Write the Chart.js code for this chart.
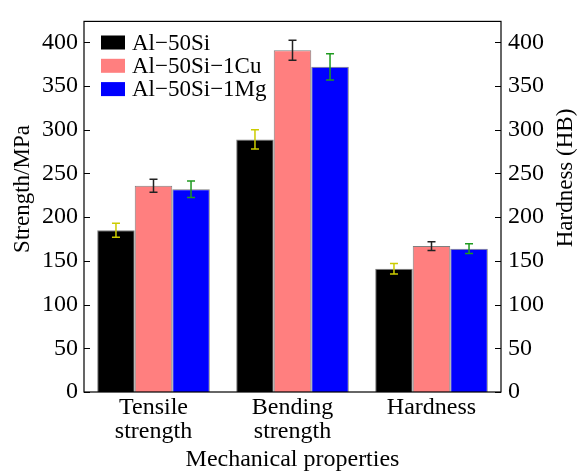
<!DOCTYPE html>
<html>
<head>
<meta charset="utf-8">
<script src="https://cdn.jsdelivr.net/npm/chart.js@4.4.1/dist/chart.umd.min.js"></script>
<style>
  html, body { margin: 0; padding: 0; background: #ffffff; }
  #wrap { position: relative; width: 579px; height: 472px; }
</style>
</head>
<body>
<div id="wrap"><canvas id="c" width="579" height="472"></canvas></div>
<script>
// ---- data ----
const categories = [["Tensile", "strength"], ["Bending", "strength"], "Hardness"];
const seriesNames = ["Al\u221250Si", "Al\u221250Si\u22121Cu", "Al\u221250Si\u22121Mg"];
const al50Si      = [185, 289, 141];
const al50Si1Cu   = [236, 391, 167];
const al50Si1Mg   = [232, 372, 164];
const err50Si     = [8, 11, 6];
const err50Si1Cu  = [7.5, 11.5, 5];
const err50Si1Mg  = [9.5, 15, 5.5];
const yTicks      = [0, 50, 100, 150, 200, 250, 300, 350, 400];
const leftTitle   = "Strength/MPa";
const rightTitle  = "Hardness (HB)";
const xTitle      = "Mechanical properties";

const FONT = "'Liberation Serif', 'Times New Roman', serif";
const barColors = ["#000000", "#ff7f7f", "#0000ff"];
const errColors = ["#cccc00", "#222222", "#1f9a1f"];
const seriesVals = [al50Si, al50Si1Cu, al50Si1Mg];
const seriesErrs = [err50Si, err50Si1Cu, err50Si1Mg];

const datasets = seriesNames.map((n, i) => ({
  label: n,
  data: seriesVals[i],
  errors: seriesErrs[i],
  backgroundColor: barColors[i],
  borderColor: "#7f7f7f",
  borderWidth: 1,
  borderSkipped: 'bottom',
  barPercentage: 1.0,
  categoryPercentage: 0.81,
  yAxisID: 'y'
}));

const decorPlugin = {
  id: 'decor',
  afterDatasetsDraw(chart) {
    const ctx = chart.ctx;
    const ys = chart.scales.y;
    chart.data.datasets.forEach((ds, di) => {
      const meta = chart.getDatasetMeta(di);
      meta.data.forEach((bar, i) => {
        const v = ds.data[i], e = ds.errors[i];
        const yTop = ys.getPixelForValue(v + e);
        const yBot = ys.getPixelForValue(v - e);
        const x = bar.x;
        ctx.save();
        ctx.strokeStyle = errColors[di];
        ctx.lineWidth = 1.5;
        ctx.beginPath();
        ctx.moveTo(x, yTop); ctx.lineTo(x, yBot);
        ctx.moveTo(x - 4, yTop); ctx.lineTo(x + 4, yTop);
        ctx.moveTo(x - 4, yBot); ctx.lineTo(x + 4, yBot);
        ctx.stroke();
        ctx.restore();
      });
    });
  },
  afterDraw(chart) {
    const ctx = chart.ctx;
    const a = chart.chartArea;
    const ys = chart.scales.y;
    ctx.save();
    ctx.strokeStyle = "#000";
    ctx.lineWidth = 1.2;
    ctx.strokeRect(a.left, a.top, a.right - a.left, a.bottom - a.top);
    ctx.beginPath();
    yTicks.forEach(t => {
      const y = Math.round(ys.getPixelForValue(t)) + 0.5;
      ctx.moveTo(a.left, y); ctx.lineTo(a.left + 6, y);
      ctx.moveTo(a.right, y); ctx.lineTo(a.right - 6, y);
    });
    ctx.lineWidth = 1;
    ctx.stroke();
    ctx.fillStyle = "#000";
    ctx.font = "23px " + FONT;
    ctx.textAlign = "center";
    ctx.textBaseline = "middle";
    ctx.save();
    ctx.translate(23, 189);
    ctx.rotate(-Math.PI / 2);
    ctx.fillText(leftTitle, 0, 0);
    ctx.restore();
    ctx.save();
    ctx.translate(566, 178);
    ctx.rotate(-Math.PI / 2);
    ctx.fillText(rightTitle, 0, 0);
    ctx.restore();
    ctx.textAlign = "left";
    chart.data.datasets.forEach((ds, i) => {
      const cy = 42.5 + i * 23.3;
      ctx.fillStyle = barColors[i];
      ctx.fillRect(101, cy - 7, 24, 14);
      ctx.fillStyle = "#000";
      ctx.font = "23px " + FONT;
      ctx.fillText(ds.label, 132, cy + 1);
    });
    ctx.restore();
  }
};

new Chart(document.getElementById('c'), {
  type: 'bar',
  data: { labels: categories, datasets },
  options: {
    responsive: false,
    animation: false,
    layout: { padding: { top: 16, left: 0, right: 0, bottom: 0 } },
    plugins: { legend: { display: false }, tooltip: { enabled: false } },
    scales: {
      x: {
        grid: { display: false, drawTicks: false },
        border: { display: false },
        ticks: { color: "#000", font: { family: FONT, size: 24, lineHeight: 1.0 }, padding: 4, maxRotation: 0, autoSkip: false },
        title: { display: true, text: xTitle, color: "#000", font: { family: FONT, size: 24, lineHeight: 1.0 }, padding: { top: 0, bottom: 0 } },
        afterFit(s) { s.height = 80; }
      },
      y: {
        position: 'left',
        min: 0, max: 424,
        grid: { display: false, drawTicks: false },
        border: { display: false },
        afterBuildTicks(s) { s.ticks = yTicks.map(v => ({ value: v })); },
        ticks: { color: "#000", font: { family: FONT, size: 24 }, padding: 6 },
        afterFit(s) { s.width = 84; }
      },
      y2: {
        position: 'right',
        min: 0, max: 424,
        grid: { display: false, drawTicks: false },
        border: { display: false },
        afterBuildTicks(s) { s.ticks = yTicks.map(v => ({ value: v })); },
        ticks: { color: "#000", font: { family: FONT, size: 24 }, padding: 7 },
        afterFit(s) { s.width = 78; }
      }
    }
  },
  plugins: [decorPlugin]
});
</script>
</body>
</html>
